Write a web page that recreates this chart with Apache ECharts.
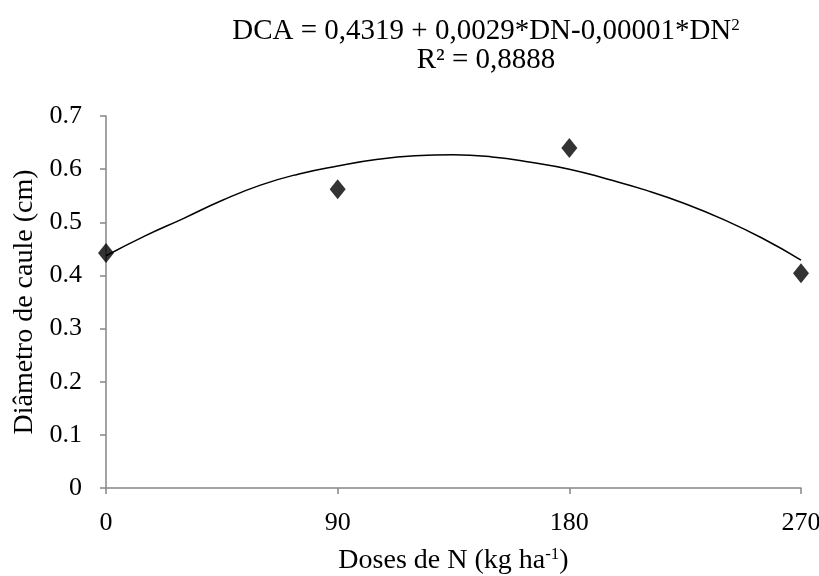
<!DOCTYPE html>
<html>
<head>
<meta charset="utf-8">
<script src="https://cdn.jsdelivr.net/npm/echarts@6/dist/echarts.min.js"></script>
<style>
  html, body { margin: 0; padding: 0; background: #fff; }
  #chart { width: 819px; height: 576px; }
</style>
</head>
<body>
<div id="chart"></div>
<script>
// observed means
const doses = [0, 90, 180, 270];
const diametro = [0.442, 0.562, 0.640, 0.404];

// fitted curve
const curveX = [0, 15, 30, 45, 60, 75, 90, 105, 120, 135, 150, 165, 180, 195, 210, 225, 240, 255, 270];
const curveY = [0.437, 0.474, 0.507, 0.541, 0.570, 0.591, 0.606, 0.618, 0.625, 0.627, 0.623, 0.613, 0.600, 0.581, 0.560, 0.535, 0.505, 0.470, 0.429];

const xTicks = [0, 90, 180, 270];
const yTicks = [0, 0.1, 0.2, 0.3, 0.4, 0.5, 0.6, 0.7];

const serif = '"Liberation Serif", "DejaVu Serif", serif';
const axisGray = '#868686';

let chart = echarts.init(document.getElementById('chart'));

chart.setOption({
    backgroundColor: '#fff',
    animation: false,
    title: {
        text: '{t|DCA = 0,4319 + 0,0029*DN-0,00001*DN}{sup|2}\n{t|R² = 0,8888}',
        left: 481,
        top: 12,
        textAlign: 'center',
        textStyle: {
            fontWeight: 'normal',
            rich: {
                t: { fontFamily: serif, fontSize: 29, color: '#000', lineHeight: 29 },
                sup: { fontFamily: serif, fontSize: 17, color: '#000', lineHeight: 29, padding: [0, 0, 12, 0] }
            }
        }
    },
    grid: {
        left: 106,
        right: 18,
        top: 116,
        bottom: 88,
        outerBoundsMode: 'none'
    },
    xAxis: {
        type: 'value',
        min: 0,
        max: 270,
        interval: 90,
        name: '{t|Doses de N (kg ha}{sup|-1}{t|)}',
        nameLocation: 'middle',
        nameGap: 58,
        nameTextStyle: {
            rich: {
                t: { fontFamily: serif, fontSize: 28, color: '#000' },
                sup: { fontFamily: serif, fontSize: 17, color: '#000', padding: [0, 0, 12, 0] }
            }
        },
        axisLine: { lineStyle: { color: axisGray, width: 1.5 } },
        axisTick: { show: true, length: 6, lineStyle: { color: axisGray, width: 1.5 } },
        axisLabel: {
            fontFamily: serif, fontSize: 26, color: '#000', margin: 22,
            customValues: xTicks
        },
        splitLine: { show: false }
    },
    yAxis: {
        type: 'value',
        min: 0,
        max: 0.7,
        interval: 0.1,
        name: 'Diâmetro de caule (cm)',
        nameLocation: 'middle',
        nameGap: 66,
        nameTextStyle: { fontFamily: serif, fontSize: 28, color: '#000' },
        axisLine: { show: true, lineStyle: { color: axisGray, width: 1.5 } },
        axisTick: { show: true, length: 6, lineStyle: { color: axisGray, width: 1.5 } },
        axisLabel: {
            fontFamily: serif, fontSize: 26, color: '#000', margin: 24,
            formatter: function (v) { return yTicks.indexOf(+v.toFixed(1)) >= 0 ? String(+v.toFixed(1)) : ''; }
        },
        splitLine: { show: false }
    },
    series: [
        {
            name: 'ajuste',
            type: 'line',
            smooth: true,
            symbol: 'none',
            lineStyle: { color: '#000', width: 1.5 },
            data: curveX.map(function (x, i) { return [x, curveY[i]]; }),
            z: 2
        },
        {
            name: 'observado',
            type: 'scatter',
            symbol: 'diamond',
            symbolSize: [16, 20],
            itemStyle: { color: '#000' },
            data: doses.map(function (x, i) { return [x, diametro[i]]; }),
            z: 3
        }
    ]
});
</script>
</body>
</html>
